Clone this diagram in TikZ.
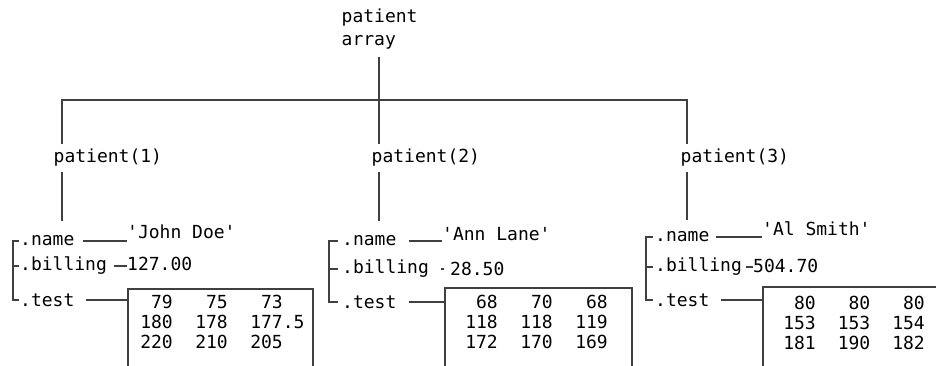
\documentclass[tikz,border=0pt]{standalone}
\usepackage{fontspec}
\newfontfamily\matfont{DejaVu Sans Mono}

\begin{document}
\begin{tikzpicture}[x=1pt,y=-1pt,
  every node/.style={font=\matfont\fontsize{18}{20}\selectfont,inner sep=0pt},
  wire/.style={draw=black!75,line width=2pt},
  lbl/.style={anchor=west,outer ysep=5pt},
  field/.style={anchor=west},
  value/.style={anchor=base west},
  testbox/.style={wire,outer sep=0pt,anchor=north west,minimum height=95pt}]
  \useasboundingbox (0,0) rectangle (936,366);
  \clip (0,0) rectangle (936,366);
  % top of the tree
  \node[anchor=north west,align=left] (top) at (341.5,8.3) {patient\\[3pt]array};
  \coordinate (j1) at ( 62,100);
  \coordinate (j2) at (379,100);
  \coordinate (j3) at (687,100);
  \node[lbl] (p1) at ( 53.5,158) {patient(1)};
  \node[lbl] (p2) at (371.5,158) {patient(2)};
  \node[lbl] (p3) at (680.5,158) {patient(3)};
  \draw[wire,shorten <=8pt] (j2 |- top.south) -- (j2 |- p2.north);
  \draw[wire] (j1 |- p1.north) -- (j1) -- (j3) -- (j3 |- p3.north);
  % patient(1)
  \node[field] (name1) at (20,241) {.name};
  \node[field] (bill1) at (20,266) {.billing};
  \node[field] (test1) at (20,300) {.test};
  \node[value] (nameval1) at (127,238.5) {\textquotesingle{}John Doe\textquotesingle};
  \node[value] (billval1) at (127,270) {127.00};
  \node[testbox,minimum width=185pt] (testbox1) at (128,289) {};
  \node[anchor=base east] (testnum1) at (283,308.5)
    {\begin{tabular}[t]{@{}r@{\hspace{22.5pt}}r@{\hspace{22.5pt}}r@{}}
      79&75&73\\180&178&177\rlap{.5}\\220&210&205\end{tabular}};
  \draw[wire,shorten >=15pt] (j1 |- p1.south) -- (j1 |- name1.north);
  \draw[wire] ([xshift=-1pt]name1.west) -- ++(-6,0) |- ([xshift=-1pt]test1.west);
  \draw[wire] ([xshift=-1pt]bill1.west) -- ++(-6,0);
  \draw[wire,shorten <=8pt] (name1.east) -- (name1.east -| nameval1.west);
  \draw[wire,shorten <=7pt] (bill1.east) -- (bill1.east -| billval1.west);
  \draw[wire,shorten <=11pt] (test1.east) -- (test1.east -| testbox1.west);
  % patient(2)
  \node[field] (name2) at (342,241) {.name};
  \node[field] (bill2) at (342,269) {.billing};
  \node[field] (test2) at (342,302) {.test};
  \node[value] (nameval2) at (442,240) {\textquotesingle{}Ann Lane\textquotesingle};
  \node[value] (billval2) at (450,275) {28.50};
  \node[testbox,minimum width=187pt] (testbox2) at (445,288) {};
  \node[anchor=base east] (testnum2) at (608,308.5)
    {\begin{tabular}[t]{@{}r@{\hspace{22.5pt}}r@{\hspace{22.5pt}}r@{}}
      68&70&68\\118&118&119\\172&170&169\end{tabular}};
  \draw[wire,shorten >=15pt] (j2 |- p2.south) -- (j2 |- name2.north);
  \draw[wire] ([xshift=-4pt]name2.west) -- ++(-9,0) |- ([xshift=-4pt]test2.west);
  \draw[wire] ([xshift=-4pt]bill2.west) -- ++(-9,0);
  \draw[wire,shorten <=12pt] (name2.east) -- (name2.east -| nameval2.west);
  \draw[wire,shorten <=12pt,shorten >=6pt] (bill2.east) -- (bill2.east -| billval2.west);
  \draw[wire,shorten <=12pt] (test2.east) -- (test2.east -| testbox2.west);
  % patient(3)
  \node[field] (name3) at (655,237) {.name};
  \node[field] (bill3) at (655,267) {.billing};
  \node[field] (test3) at (655,300) {.test};
  \node[value] (nameval3) at (762,235) {\textquotesingle{}Al Smith\textquotesingle};
  \node[value] (billval3) at (753,272) {504.70};
  \node[testbox,minimum width=200pt] (testbox3) at (763,287) {};
  \node[anchor=base east] (testnum3) at (925,309.5)
    {\begin{tabular}[t]{@{}r@{\hspace{22pt}}r@{\hspace{22pt}}r@{}}
      80&80&80\\153&153&154\\181&190&182\end{tabular}};
  \draw[wire,shorten >=12pt] (j3 |- p3.south) -- (j3 |- name3.north);
  \draw[wire] ([xshift=-2pt]name3.west) -- ++(-7,0) |- ([xshift=-2pt]test3.west);
  \draw[wire] ([xshift=-2pt]bill3.west) -- ++(-7,0);
  \draw[wire,shorten <=6pt] (name3.east) -- (name3.east -| nameval3.west);
  \draw[wire,shorten <=4pt] (bill3.east) -- (bill3.east -| billval3.west);
  \draw[wire,shorten <=11pt] (test3.east) -- (test3.east -| testbox3.west);
\end{tikzpicture}
\end{document}
